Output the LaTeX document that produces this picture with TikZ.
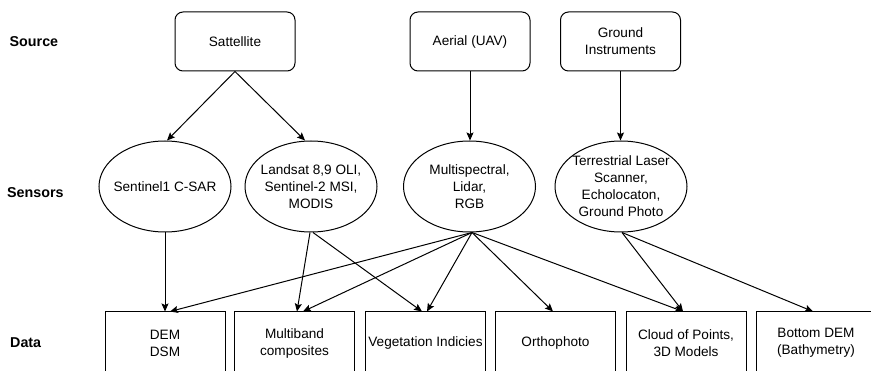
\documentclass[tikz,border=0pt]{standalone}
\usepackage{fontspec}
\setmainfont{Liberation Sans}
\usetikzlibrary{shapes.geometric,arrows.meta,positioning}
\begin{document}
\begin{tikzpicture}[x=1pt,y=-1pt,
  every node/.style={font=\fontsize{13.6}{17}\selectfont},
  srcbox/.style={draw,line width=1pt,rounded corners=8pt,minimum width=120pt,minimum height=59pt,align=center,inner sep=0pt},
  sensor/.style={draw,line width=1pt,ellipse,minimum width=132pt,minimum height=91pt,inner sep=0pt},
  sensortext/.style={align=center,inner sep=0pt},
  databox/.style={draw,line width=1pt,minimum width=120pt,minimum height=62pt,align=center,inner sep=0pt},
  rowlabel/.style={anchor=west,inner sep=0pt,font=\fontsize{14.3}{17}\selectfont\bfseries},
  conn/.style={line width=1pt,-{Stealth[length=8pt,width=7pt,inset=1.5pt]}}]
\clip (0,0) rectangle (871,371);
% row labels
\node[rowlabel] (lsource) at (9.5,42) {Source};
\node[rowlabel] (lsensors) at (7,193) {Sensors};
\node[rowlabel] (ldata) at (10,343) {Data};
% sources
\node[srcbox] (sat) at (235,41.5) {Sattellite};
\node[srcbox] (uav) at (470,41.5) {Aerial (UAV)};
\node[srcbox] (gnd) at (620.5,41.5) {Ground\\Instruments};
% sensors
\node[sensor,label={[sensortext]center:Sentinel1 C-SAR}] (s1) at (165,186.5) {};
\node[sensor,label={[sensortext]center:Landsat 8,9 OLI,\\Sentinel-2 MSI,\\MODIS}] (ls) at (311,186.5) {};
\node[sensor,label={[sensortext]center:Multispectral,\\Lidar,\\RGB}] (ms) at (469.5,186.5) {};
\node[sensor,label={[sensortext]center:Terrestrial Laser\\Scanner,\\Echolocaton,\\Ground Photo}] (tl) at (621,186.5) {};
% data
\node[databox] (dem) at (165,343) {DEM\\DSM};
\node[databox] (mb) at (294.5,343) {Multiband\\composites};
\node[databox] (veg) at (425.5,343) {Vegetation Indicies};
\node[databox] (orth) at (555.5,343) {Orthophoto};
\node[databox] (cld) at (686,343) {Cloud of Points,\\3D Models};
\node[databox] (bdem) at (816,343) {Bottom DEM\\(Bathymetry)};
% connectors
\draw[conn] (sat.south) -- ([xshift=2pt]s1.north);
\draw[conn] (sat.south) -- ([xshift=-6pt]ls.north);
\draw[conn] (uav.south) -- ([xshift=0.5pt]ms.north);
\draw[conn] (gnd.south) -- ([xshift=-0.5pt]tl.north);
\draw[conn] (s1.south) -- (dem.north);
\draw[conn] ([xshift=-1pt]ls.south) -- ([xshift=2.5pt]mb.north);
\draw[conn] ([xshift=2pt]ls.south) -- ([xshift=-3.5pt]veg.north);
\draw[conn] ([xshift=2.5pt]ms.south) -- ([xshift=5pt]dem.north);
\draw[conn] ([xshift=2.5pt]ms.south) -- ([xshift=8.5pt]mb.north);
\draw[conn] ([xshift=2.5pt]ms.south) -- ([xshift=1.5pt]veg.north);
\draw[conn] ([xshift=2.5pt]ms.south) -- ([xshift=-2.5pt]orth.north);
\draw[conn] ([xshift=2.5pt]ms.south) -- ([xshift=-3pt]cld.north);
\draw[conn] ([xshift=1pt]tl.south) -- ([xshift=-3pt]cld.north);
\draw[conn] ([xshift=1pt]tl.south) -- ([xshift=-3pt]bdem.north);
\end{tikzpicture}
\end{document}
